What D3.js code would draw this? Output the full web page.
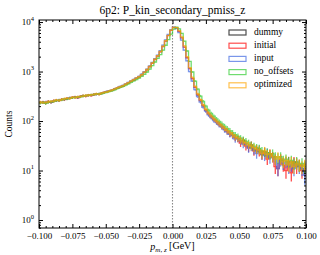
<!DOCTYPE html>
<html>
<head>
<meta charset="utf-8">
<script src="https://cdn.jsdelivr.net/npm/d3@7"></script>
<style>
  body { margin: 0; background: #fff; }
  svg text { font-family: "Liberation Serif", "DejaVu Serif", serif; fill: #000; }
</style>
</head>
<body>
<svg id="chart" width="320" height="255"></svg>
<script>
// histogram binning: 100 bins from -0.1 to 0.1
const binLo = -0.1;
const binHi = 0.1;
const nBins = 100;

const seriesNames = ["dummy", "initial", "input", "no_offsets", "optimized"];
const seriesColors = ["#000000", "#ff0000", "#4169e1", "#32cd32", "#ffa500"];

const dummy = [];

const initial = [
  235,240,232,248,238,255,262,258,275,270,
  285,290,300,306,295,315,325,318,335,328,
  340,352,345,365,380,392,405,420,445,470,
  490,515,550,590,630,675,725,780,860,960,
  1080,1250,1480,1750,2050,2500,3200,4100,5300,6800,
  7800,7600,6500,4800,3100,1900,1150,720,480,340,
  260,205,165,140,122,108,96,86,77,69,
  62,55,52,46,44,36,40,31,29,33,
  25,27,24,21,24,17,22,19,12,11,
  17,13,10,15,9,15,12,13,10,11
];

const input = [
  238,236,240,244,242,252,258,265,270,276,
  282,295,298,302,300,310,322,325,330,335,
  345,348,355,362,378,395,410,425,450,475,
  500,525,560,600,645,690,745,800,890,990,
  1120,1300,1530,1820,2150,2650,3400,4350,5600,7000,
  7900,7400,6100,4300,2700,1650,1000,640,430,310,
  240,190,158,133,118,102,93,83,75,66,
  60,54,50,43,44,40,34,35,28,30,
  26,22,27,21,20,23,18,19,17,11,
  16,14,15,12,13,11,14,12,11,8
];

const no_offsets = [
  232,238,228,240,245,250,260,262,268,278,
  280,288,296,300,305,308,320,326,330,338,
  342,350,352,360,372,385,398,412,432,455,
  478,500,530,565,605,645,690,740,800,880,
  980,1120,1320,1560,1850,2200,2700,3400,4400,5700,
  7200,7900,7300,5900,4100,2600,1600,980,640,440,
  320,250,200,165,142,125,110,98,88,79,
  71,64,58,53,49,45,42,39,36,33,
  31,29,28,25,24,23,21,22,19,18,
  19,16,17,15,16,14,15,13,14,12
];

const optimized = [
  240,236,238,245,250,252,265,262,272,280,
  288,286,302,298,308,312,320,328,332,338,
  345,355,350,368,378,390,408,425,448,472,
  495,520,555,595,640,685,735,790,870,970,
  1100,1270,1500,1780,2100,2550,3250,4200,5400,6900,
  7800,7700,6700,5000,3300,2000,1200,760,500,355,
  270,212,172,145,126,111,99,88,79,71,
  64,58,53,48,45,41,38,36,33,31,
  29,27,26,22,25,21,22,19,17,19,
  17,15,16,13,15,12,14,13,12,13
];

const allSeries = [dummy, initial, input, no_offsets, optimized];

const xMajor = [-0.1, -0.075, -0.05, -0.025, 0, 0.025, 0.05, 0.075, 0.1];
const yDecades = [0, 1, 2, 3, 4];

const margin = { top: 20, right: 14, bottom: 27, left: 39 };
const width = 320, height = 255;

const svg = d3.select("#chart");

const x = d3.scaleLinear()
  .domain([binLo, binHi])
  .range([margin.left, width - margin.right]);

const y = d3.scaleLog()
  .domain([0.69, 11000])
  .range([height - margin.bottom, margin.top]);

const binW = (binHi - binLo) / nBins;

// vertical marker at zero
svg.append("line")
  .attr("x1", x(0)).attr("x2", x(0))
  .attr("y1", y.range()[1]).attr("y2", y.range()[0])
  .attr("stroke", "#888")
  .attr("stroke-width", 1.1)
  .attr("stroke-dasharray", "1.5,1.5");

// step histograms + error bars
const plot = svg.append("g");
allSeries.forEach((vals, s) => {
  if (vals.length == 0) return;
  const pts = vals.map((v, i) => [binLo + i * binW, v]);
  pts.push([binHi, vals[vals.length - 1]]);

  const g = plot.append("g")
    .attr("opacity", 0.7);

  g.append("path")
    .datum(pts)
    .attr("fill", "none")
    .attr("stroke", seriesColors[s])
    .attr("stroke-width", 1.3)
    .attr("d", d3.line().x(d => x(d[0])).y(d => y(d[1])).curve(d3.curveStepAfter));

  g.selectAll("line.err")
    .data(vals)
    .enter()
    .append("line")
      .attr("class", "err")
      .attr("x1", (d, i) => x(binLo + (i + 0.5) * binW))
      .attr("x2", (d, i) => x(binLo + (i + 0.5) * binW))
      .attr("y1", d => y(Math.max(d - Math.sqrt(d), 0.7)))
      .attr("y2", d => y(d + Math.sqrt(d)))
      .attr("stroke", seriesColors[s])
      .attr("stroke-width", 1.3);
});

// axes with inward ticks on all sides
const xMinor = d3.range(-0.1, 0.1001, 0.005).filter(v => !xMajor.some(m => Math.abs(m - v) < 1e-9));
const yMinor = [];
yDecades.forEach(p => { for (let k = 2; k <= 9; k++) yMinor.push(k * Math.pow(10, p - 1)); });
for (let k = 2; k <= 9; k++) yMinor.push(k * 1e4);
const yMinorIn = yMinor.filter(v => v >= y.domain()[0] && v <= y.domain()[1]);

const fmt = v => (Math.abs(v) < 1e-9 ? "0.000" : d3.format(".3f")(v).replace("-", "\u2212"));

svg.append("g")
  .attr("transform", `translate(0,${y.range()[0]})`)
  .call(d3.axisBottom(x).tickValues(xMajor).tickSize(-4).tickPadding(5).tickFormat(fmt))
  .call(g => g.select(".domain").remove())
  .call(g => g.selectAll("text").attr("font-size", 9).attr("font-family", "Liberation Serif"));
svg.append("g")
  .attr("transform", `translate(0,${y.range()[0]})`)
  .call(d3.axisBottom(x).tickValues(xMinor).tickSize(-2).tickFormat(""))
  .call(g => g.select(".domain").remove());
svg.append("g")
  .attr("transform", `translate(0,${y.range()[1]})`)
  .call(d3.axisTop(x).tickValues(xMajor).tickSize(-4).tickFormat(""))
  .call(g => g.select(".domain").remove());
svg.append("g")
  .attr("transform", `translate(0,${y.range()[1]})`)
  .call(d3.axisTop(x).tickValues(xMinor).tickSize(-2).tickFormat(""))
  .call(g => g.select(".domain").remove());

const yMajorVals = yDecades.map(p => Math.pow(10, p));
const yLeft = svg.append("g")
  .attr("transform", `translate(${x.range()[0]},0)`)
  .call(d3.axisLeft(y).tickValues(yMajorVals).tickSize(-4).tickPadding(5).tickFormat(""))
  .call(g => g.select(".domain").remove());
yLeft.selectAll(".tick").each(function(d) {
  const t = d3.select(this).append("text")
    .attr("x", -5)
    .attr("dy", "0.32em")
    .attr("text-anchor", "end")
    .attr("font-size", 9);
  t.append("tspan").text("10");
  t.append("tspan").attr("font-size", 6.5).attr("dy", "-0.7em").text(Math.round(Math.log10(d)));
});
svg.append("g")
  .attr("transform", `translate(${x.range()[0]},0)`)
  .call(d3.axisLeft(y).tickValues(yMinorIn).tickSize(-2).tickFormat(""))
  .call(g => g.select(".domain").remove());
svg.append("g")
  .attr("transform", `translate(${x.range()[1]},0)`)
  .call(d3.axisRight(y).tickValues(yMajorVals).tickSize(-4).tickFormat(""))
  .call(g => g.select(".domain").remove());
svg.append("g")
  .attr("transform", `translate(${x.range()[1]},0)`)
  .call(d3.axisRight(y).tickValues(yMinorIn).tickSize(-2).tickFormat(""))
  .call(g => g.select(".domain").remove());

// frame
svg.append("rect")
  .attr("x", x.range()[0]).attr("y", y.range()[1])
  .attr("width", x.range()[1] - x.range()[0])
  .attr("height", y.range()[0] - y.range()[1])
  .attr("fill", "none")
  .attr("stroke", "#000")
  .attr("stroke-width", 1);

// title + labels
svg.append("text")
  .attr("x", (x.range()[0] + x.range()[1]) / 2)
  .attr("y", 14)
  .attr("text-anchor", "middle")
  .attr("font-size", 11.5)
  .text("6p2: P_kin_secondary_pmiss_z");

const xl = svg.append("text")
  .attr("x", (x.range()[0] + x.range()[1]) / 2)
  .attr("y", 250)
  .attr("text-anchor", "middle")
  .attr("font-size", 10);
xl.append("tspan").attr("font-style", "italic").text("p");
xl.append("tspan").attr("font-size", 7).attr("dy", "0.3em").attr("font-style", "italic").text("m, z");
xl.append("tspan").attr("dy", "-0.3em").text(" [GeV]");

svg.append("text")
  .attr("transform", `translate(12,${(y.range()[0] + y.range()[1]) / 2}) rotate(-90)`)
  .attr("text-anchor", "middle")
  .attr("font-size", 9.5)
  .text("Counts");

// legend
const legend = svg.append("g");
seriesNames.forEach((name, i) => {
  const ly = 32.5 + i * 13.2;
  legend.append("rect")
    .attr("x", 229).attr("y", ly - 2.5)
    .attr("width", 17).attr("height", 5)
    .attr("fill", "none")
    .attr("stroke", seriesColors[i])
    .attr("stroke-opacity", 0.7)
    .attr("stroke-width", 1.2);
  legend.append("text")
    .attr("x", 254).attr("y", ly)
    .attr("dominant-baseline", "middle")
    .attr("font-size", 9.5)
    .text(name);
});
</script>
</body>
</html>
